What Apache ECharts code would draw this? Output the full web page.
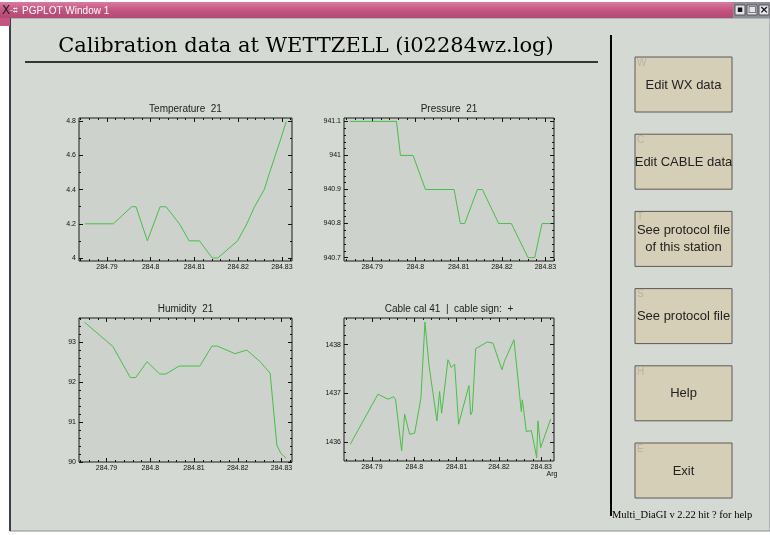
<!DOCTYPE html>
<html>
<head>
<meta charset="utf-8">
<script src="https://cdn.jsdelivr.net/npm/echarts@6/dist/echarts.min.js"></script>
<style>
html,body{margin:0;padding:0;background:#fff;}
#main{width:770px;height:535px;}
</style>
</head>
<body>
<div id="main"></div>
<script>
// Temperature 21
var tempX = [284.78496,284.79145,284.79565,284.79664,284.79924,284.80214,284.80351,284.80656,284.80878,284.81115,284.81405,284.81534,284.81985,284.82198,284.82374,284.82595,284.82718,284.82847,284.82977,284.83099];
var tempY = [4.2,4.2,4.3,4.3,4.1,4.3,4.3,4.2,4.1,4.1,4.0,4.0,4.1,4.2,4.3,4.4,4.5,4.6,4.7,4.8];

// Pressure 21
var presX = [284.78485,284.79562,284.79654,284.79946,284.80231,284.80892,284.81038,284.81138,284.81431,284.81546,284.81923,284.82215,284.826,284.82754,284.82923,284.83123];
var presY = [941.1,941.1,941.0,941.0,940.9,940.9,940.8,940.8,940.9,940.9,940.8,940.8,940.7,940.7,940.8,940.8];

// Humidity 21
var humX = [284.78495,284.79145,284.79543,284.79665,284.79925,284.80216,284.80354,284.8066,284.81134,284.81409,284.81532,284.81937,284.82205,284.82511,284.8274,284.82893,284.82985,284.83107];
var humY = [93.5,92.89,92.11,92.11,92.51,92.2,92.2,92.4,92.4,92.9,92.9,92.71,92.8,92.51,92.22,90.42,90.21,90.09];

// Cable cal 41
var cabX = [284.78488,284.79142,284.79378,284.79512,284.79559,284.79701,284.79772,284.79819,284.7989,284.80008,284.80157,284.80252,284.80346,284.80535,284.80598,284.80646,284.80795,284.80874,284.80953,284.81047,284.81291,284.81331,284.8137,284.81449,284.81724,284.81858,284.82071,284.82134,284.82354,284.82528,284.82551,284.82583,284.82646,284.82764,284.82827,284.8289,284.82921,284.82984,284.8322];
var cabY = [1435.959,1436.986,1436.884,1436.932,1436.87,1435.822,1436.575,1436.616,1436.164,1436.185,1436.904,1438.466,1437.589,1436.438,1437.041,1436.596,1437.692,1437.534,1437.603,1436.37,1437.164,1436.562,1436.63,1437.918,1438.055,1438.034,1437.486,1437.671,1438.103,1436.63,1436.87,1436.664,1436.219,1436.24,1435.979,1435.685,1436.438,1435.89,1436.473];

// tick values
var xTicks = [284.79,284.8,284.81,284.82,284.83];
var tempTicks = [4,4.2,4.4,4.6,4.8];
var presTicks = [940.7,940.8,940.9,941,941.1];
var humTicks = [90,91,92,93];
var cabTicks = [1436,1437,1438];

var panelTitles = ['Temperature  21','Pressure  21','Humidity  21','Cable cal 41  |  cable sign:  +'];
var buttonKeys = ['W','C','T','S','H','E'];
var buttonLabels = [['Edit WX data'],['Edit CABLE data'],['See protocol file','of this station'],['See protocol file'],['Help'],['Exit']];

var panels = [
    {x:tempX, y:tempY, yTicks:tempTicks, xMinor:0.002, yMinor:0.1,
     grid:{left:79, top:118, width:213, height:143}, xr:[284.7836,284.8323], yr:[3.982,4.82]},
    {x:presX, y:presY, yTicks:presTicks, xMinor:0.002, yMinor:0.02,
     grid:{left:344, top:118, width:210, height:143}, xr:[284.7835,284.832], yr:[940.69,941.11]},
    {x:humX, y:humY, yTicks:humTicks, xMinor:0.002, yMinor:0.2,
     grid:{left:79, top:318, width:213, height:144}, xr:[284.7837,284.8324], yr:[89.995,93.604]},
    {x:cabX, y:cabY, yTicks:cabTicks, xMinor:0.002, yMinor:0.2,
     grid:{left:344, top:318, width:210, height:143}, xr:[284.7834,284.833], yr:[1435.616,1438.548]}
];

function minorVals(r, step){
    var out = [];
    var v = Math.ceil(r[0]/step - 1e-9);
    while (v*step <= r[1] + 1e-9) { out.push(+(v*step).toFixed(6)); v++; }
    return out;
}

function axis(gi, pos, r, ticks, len, labels){
    return {
        gridIndex: gi, type: 'value', position: pos, min: r[0], max: r[1],
        axisLine: {show: false, onZero: false},
        splitLine: {show: false},
        axisTick: {show: true, inside: true, length: len, customValues: ticks,
                   lineStyle: {color: '#111', width: 1}},
        axisLabel: {show: labels, customValues: ticks, fontSize: 7, color: '#111',
                    fontFamily: 'Liberation Sans', margin: 3,
                    formatter: function(v){ return String(+(+v).toFixed(4)); }}
    };
}

var grids = [], xAxes = [], yAxes = [], series = [];
panels.forEach(function(p, gi){
    grids.push({left:p.grid.left, top:p.grid.top, width:p.grid.width, height:p.grid.height,
                show:true, backgroundColor:'#ced2cc', borderColor:'#1a1a1a', borderWidth:1});
    var xi = xAxes.length, yi = yAxes.length;
    xAxes.push(axis(gi,'bottom',p.xr,xTicks,4,true));
    xAxes.push(axis(gi,'bottom',p.xr,minorVals(p.xr,p.xMinor),2,false));
    xAxes.push(axis(gi,'top',p.xr,xTicks,4,false));
    xAxes.push(axis(gi,'top',p.xr,minorVals(p.xr,p.xMinor),2,false));
    yAxes.push(axis(gi,'left',p.yr,p.yTicks,4,true));
    yAxes.push(axis(gi,'left',p.yr,minorVals(p.yr,p.yMinor),2,false));
    yAxes.push(axis(gi,'right',p.yr,p.yTicks,4,false));
    yAxes.push(axis(gi,'right',p.yr,minorVals(p.yr,p.yMinor),2,false));
    var d = [];
    for (var i = 0; i < p.x.length; i++) d.push([p.x[i], p.y[i]]);
    series.push({type:'line', xAxisIndex:xi, yAxisIndex:yi, data:d, symbol:'none',
                 lineStyle:{color:'#49be49', width:1}, silent:true});
});

var g = [];
// window frame
g.push({type:'rect', shape:{x:10, y:18, width:760, height:513}, style:{fill:'#d5d9d3', stroke:'#8a8f96', lineWidth:1}});
g.push({type:'line', shape:{x1:10, y1:18, x2:10, y2:531}, style:{stroke:'#3c3f4a', lineWidth:2}});
g.push({type:'rect', shape:{x:0, y:2, width:770, height:16},
        style:{fill:new echarts.graphic.LinearGradient(0,0,0,1,[{offset:0,color:'#d77ca2'},{offset:0.5,color:'#c4557f'},{offset:1,color:'#b04a74'}])}});
g.push({type:'rect', shape:{x:0, y:18, width:10, height:8}, style:{fill:'#c4557f'}});
g.push({type:'rect', shape:{x:733, y:2, width:37, height:16}, style:{fill:'#8f8c99'}});
[735,747,759].forEach(function(bx, k){
    g.push({type:'rect', shape:{x:bx, y:5, width:10, height:10}, style:{fill:'#e4e4ea', stroke:'#555', lineWidth:1}});
    var glyph = ['▪','□','×'][k];
    g.push({type:'text', x:bx+5, y:10, style:{text:glyph, fill:'#111', fontSize:k==2?11:9, fontWeight:'bold', align:'center', verticalAlign:'middle', fontFamily:'DejaVu Sans'}});
});
g.push({type:'text', x:2, y:11, style:{text:'X', fill:'#222', fontSize:12, fontFamily:'DejaVu Sans', verticalAlign:'middle'}});
g.push({type:'text', x:10, y:11, style:{text:'-⌗', fill:'#eee', fontSize:8, fontFamily:'DejaVu Sans', verticalAlign:'middle'}});
g.push({type:'text', x:22, y:11, style:{text:'PGPLOT Window 1', fill:'#fff', fontSize:10, fontFamily:'Liberation Sans', verticalAlign:'middle'}});

// main title and separators
g.push({type:'text', x:306, y:47, style:{text:'Calibration data at WETTZELL (i02284wz.log)', fill:'#000', fontSize:21, fontFamily:'DejaVu Serif', align:'center', verticalAlign:'middle'}});
g.push({type:'line', shape:{x1:25, y1:62, x2:598, y2:62}, style:{stroke:'#000', lineWidth:1.5}});
g.push({type:'line', shape:{x1:611, y1:35, x2:611, y2:516}, style:{stroke:'#000', lineWidth:2}});

// panel titles
panels.forEach(function(p, i){
    g.push({type:'text', x:p.grid.left + p.grid.width/2, y:p.grid.top - 9,
            style:{text:panelTitles[i], fill:'#222', fontSize:10, fontFamily:'Liberation Sans', align:'center', verticalAlign:'middle'}});
});
g.push({type:'text', x:552, y:474, style:{text:'Arg', fill:'#111', fontSize:7, fontFamily:'Liberation Sans', align:'center', verticalAlign:'middle'}});

// buttons
buttonKeys.forEach(function(k, i){
    var top = 57 + i*77.2;
    g.push({type:'rect', shape:{x:635, y:top, width:97, height:55}, style:{fill:'#d6cfb7', stroke:'#5c5a55', lineWidth:1}});
    g.push({type:'text', x:637, y:top+1, style:{text:k, fill:'#b9b1a8', fontSize:10, fontFamily:'Liberation Sans'}});
    var lines = buttonLabels[i];
    lines.forEach(function(t, j){
        var cy = lines.length == 1 ? top + 28 : top + 19 + j*17;
        g.push({type:'text', x:683.5, y:cy, style:{text:t, fill:'#222', fontSize:13, fontFamily:'Liberation Sans', align:'center', verticalAlign:'middle'}});
    });
});
g.push({type:'text', x:612, y:515, style:{text:'Multi_DiaGI v 2.22 hit ? for help', fill:'#000', fontSize:10.5, fontFamily:'Liberation Serif', verticalAlign:'middle'}});

var myChart = echarts.init(document.getElementById('main'));
myChart.setOption({
    animation: false,
    backgroundColor: '#ffffff',
    grid: grids,
    xAxis: xAxes,
    yAxis: yAxes,
    series: series,
    graphic: {elements: g.map(function(e){ e.z = e.z || -1; return e; })}
});
</script>
</body>
</html>
